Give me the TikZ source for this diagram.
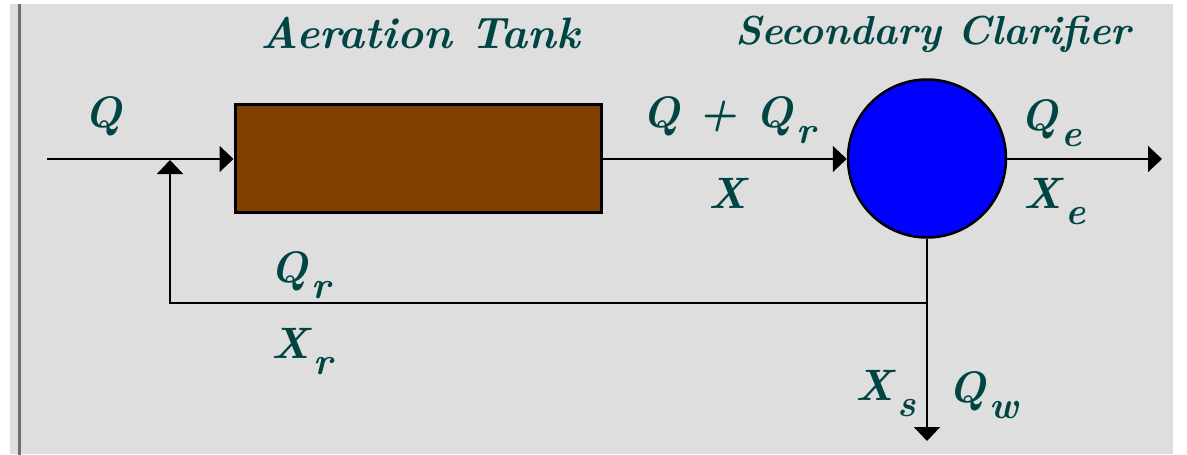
\documentclass[tikz,border=0pt]{standalone}
\usepackage{fontspec}
\usetikzlibrary{arrows.meta}
\definecolor{bg}{RGB}{222,222,222}
\definecolor{txt}{RGB}{0,68,68}
\definecolor{tankbrown}{RGB}{128,64,0}
\definecolor{framegray}{RGB}{112,112,112}
\newcommand{\lowsub}[1]{\hspace{4pt}\raisebox{-16pt}{\fontsize{38}{40}\selectfont #1}}
\begin{document}
\begin{tikzpicture}[x=1pt,y=-1pt,
  lbl/.style={text=txt,font=\fontsize{44}{48}\selectfont\bfseries\itshape,inner sep=0pt},
  flow/.style={line width=2pt,draw=black},
  tip/.style={-{Triangle[length=14pt,width=26pt]}}]
\useasboundingbox (0,0) rectangle (1187,455);
\fill[white] (0,0) rectangle (1187,455);
\fill[bg] (10,4) rectangle (1173,454);
\fill[framegray] (17.5,4) rectangle (20.5,455);

\node[draw=black,line width=3pt,fill=tankbrown,minimum width=366pt,minimum height=108pt,inner sep=0pt] (tank) at (418,158) {};
\node[circle,draw=black,line width=2.5pt,fill=blue,minimum size=158pt,inner sep=0pt] (clar) at (927,158.5) {};

\coordinate (src) at (47,159);
\coordinate (junc) at (170,160);
\coordinate (ret) at (170,303);
\coordinate (split) at (927,303);
\coordinate (eff) at (1162,159);
\coordinate (waste) at (927,441);

\draw[flow,tip] (src) -- (src -| tank.west);
\draw[flow,tip] (src -| tank.east) -- (src -| clar.west);
\draw[flow,tip] (src -| clar.east) -- (eff);
\draw[flow] (clar.south) -- (split);
\draw[flow,tip] (split) -- (waste);
\draw[flow,tip] (split) -- (ret) -- (junc);

\node[lbl,anchor=base] (ttank) at (420,48) {Aeration Tank};
\node[lbl,anchor=base,font=\fontsize{40.5}{44}\selectfont\bfseries\itshape] (tclar) at (933,45) {Secondary Clarifier};
\node[lbl,anchor=base west] (lq) at (84,127) {Q};
\node[lbl,anchor=base west] (lqqr) at (642,127) {Q + Q\lowsub{r}};
\node[lbl,anchor=base west] (lx) at (708,208) {X};
\node[lbl,anchor=base west] (lqe) at (1020,130) {Q\lowsub{e}};
\node[lbl,anchor=base west] (lxe) at (1023,208) {X\lowsub{e}};
\node[lbl,anchor=base west] (lqr) at (270,282) {Q\lowsub{r}};
\node[lbl,anchor=base west] (lxr) at (271,358) {X\lowsub{r}};
\node[lbl,anchor=base west] (lxs) at (855,400) {X\lowsub{s}};
\node[lbl,anchor=base west] (lqw) at (948,402) {Q\lowsub{w}};
\end{tikzpicture}
\end{document}
